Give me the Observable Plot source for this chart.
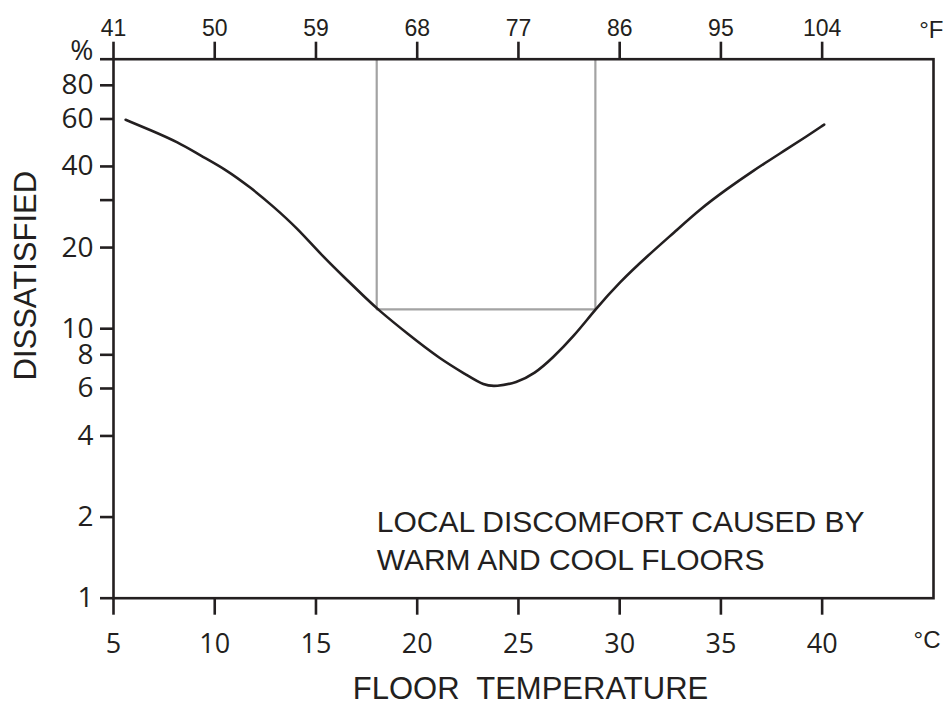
<!DOCTYPE html>
<html><head><meta charset="utf-8">
<script src="https://cdn.jsdelivr.net/npm/d3@7"></script>
<script src="https://cdn.jsdelivr.net/npm/@observablehq/plot@0.6"></script>
<style>html,body{margin:0;padding:0;background:#fff;} #chart svg{display:block} text{white-space:pre}</style>
</head><body><div id="chart"></div>
<script>
// Floor temperature (°C) and percent dissatisfied
const curveT = [5.6, 6.8, 8.2, 9.3, 10.5, 11.8, 12.9, 14.1, 15.2, 16.4, 17.5, 18.05, 19.5, 21.15, 22.5, 23.3, 23.9, 24.9, 25.8, 26.7, 27.7, 28.8, 30.0, 31.4, 32.7, 34.0, 35.3, 36.6, 37.9, 39.3, 40.1];
const curveP = [59.6, 54.7, 49.2, 43.9, 39.2, 33.3, 28.4, 23.5, 19.0, 15.5, 12.9, 11.8, 9.6, 7.7, 6.7, 6.15, 6.1, 6.3, 6.8, 7.8, 9.3, 11.8, 14.9, 18.7, 22.8, 27.9, 33.0, 38.6, 44.6, 52.1, 57.2];
// comfort box
const boxT = [18, 28.8];
const boxP = [100, 11.8];
// ticks
const cTicks = [5, 10, 15, 20, 25, 30, 35, 40];
const cTickLabels = ["5", "10", "15", "20", "25", "30", "35", "40"];
const fTickLabels = ["41", "50", "59", "68", "77", "86", "95", "104"];
const yTicks = [1, 2, 4, 6, 8, 10, 20, 30, 40, 60, 80, 100];
const yTickLabels = ["1", "2", "4", "6", "8", "10", "20", "", "40", "60", "80", "%"];
// texts
const xTitle = "FLOOR  TEMPERATURE";
const yTitle = "DISSATISFIED";
const noteLines = ["LOCAL DISCOMFORT CAUSED BY", "WARM AND COOL FLOORS"];
const noteT = 18;
const noteP = 1.27;
const unitC = "°C";
const unitF = "°F";

const ink = "#231f20";
const curve = curveT.map((t, i) => ({t, p: curveP[i]}));
const box = [
  {t: boxT[0], p: boxP[0]}, {t: boxT[0], p: boxP[1]},
  {t: boxT[1], p: boxP[1]}, {t: boxT[1], p: boxP[0]}
];
const yLabels = yTicks.map((p, i) => ({p, s: yTickLabels[i]}));
const yNumLabels = yLabels.filter(d => d.s !== "%" && d.s !== "");
const yPctLabel = yLabels.filter(d => d.s === "%");

const chart = Plot.plot({
  width: 943, height: 705,
  marginLeft: 113, marginRight: 10, marginTop: 58.7, marginBottom: 107.3,
  x: {domain: [5, 45.5]},
  y: {type: "log", domain: [1, 100]},
  style: {background: "#fff", color: ink},
  marks: [
    Plot.line(box, {x: "t", y: "p", stroke: "#a3a3a3", strokeWidth: 2.2}),
    Plot.line(curve, {x: "t", y: "p", curve: "basis", stroke: ink, strokeWidth: 2.6}),
    Plot.frame({stroke: ink, strokeWidth: 2.6}),
    Plot.axisX({anchor: "bottom", ticks: cTicks, tickFormat: d => cTickLabels[cTicks.indexOf(d)],
      tickSize: 17, tickPadding: 19, stroke: ink, strokeWidth: 2.6, fill: ink,
      fontSize: 27, fontFamily: "Open Sans", label: null}),
    Plot.axisX({anchor: "top", ticks: cTicks, tickFormat: d => fTickLabels[cTicks.indexOf(d)],
      tickSize: 18, tickPadding: 5, stroke: ink, strokeWidth: 2.6, fill: ink,
      fontSize: 23, fontFamily: "Liberation Sans", label: null}),
    Plot.axisY({anchor: "left", ticks: yTicks, tickFormat: () => "", fill: "none",
      tickSize: 13, stroke: ink, strokeWidth: 2.6, label: null}),
    Plot.text(yNumLabels, {y: "p", text: "s", frameAnchor: "left",
      textAnchor: "end", dx: -20, fontSize: 28, fontFamily: "Open Sans", fill: ink}),
    Plot.text(yPctLabel, {y: "p", text: "s", frameAnchor: "left",
      textAnchor: "end", lineAnchor: "bottom", dx: -20, dy: 1, fontSize: 28, fontFamily: "Open Sans", fill: ink}),
    Plot.text([xTitle], {frameAnchor: "bottom", textAnchor: "middle", lineAnchor: "bottom", dx: 7, dy: 101,
      fontSize: 31, fontFamily: "Liberation Sans", fill: ink}),
    Plot.text([yTitle], {frameAnchor: "left", textAnchor: "middle", rotate: -90, lineAnchor: "bottom", dx: -78, dy: -53,
      fontSize: 31, fontFamily: "Liberation Sans", fill: ink}),
    Plot.text([{t: noteT, p: noteP, s: noteLines.join("\n")}], {x: "t", y: "p", text: "s",
      textAnchor: "start", lineAnchor: "bottom", lineHeight: 1.27,
      fontSize: 30, fontFamily: "Liberation Sans", fill: ink}),
    Plot.text([unitC], {frameAnchor: "bottom-right", textAnchor: "end", lineAnchor: "bottom", dx: 7, dy: 50,
      fontSize: 24, fontFamily: "Liberation Sans", fill: ink}),
    Plot.text([unitF], {frameAnchor: "top-right", textAnchor: "end", lineAnchor: "bottom", dx: 10, dy: -21.7,
      fontSize: 24, fontFamily: "Liberation Sans", fill: ink})
  ]
});
document.getElementById("chart").appendChild(chart);
</script>
</body></html>
